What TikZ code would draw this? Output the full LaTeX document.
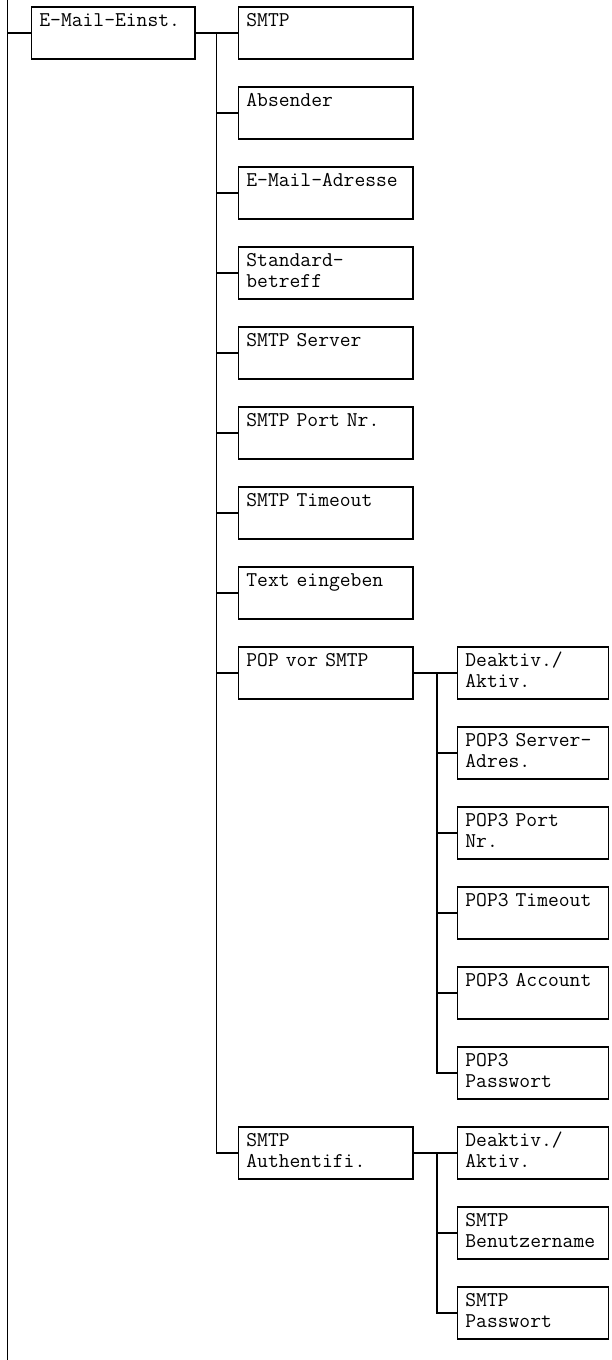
\documentclass[tikz,border=0pt]{standalone}
\usepackage{fontspec}
\usepackage{tikz}
\usetikzlibrary{calc}

\tikzset{
  menu/.style={draw, line width=1.8pt, anchor=north west, align=left,
    inner xsep=8pt, inner ysep=0pt, text height=19.5pt, text depth=32.5pt,
    font={\ttfamily\fontsize{21}{20.7}\selectfont}},
  lvlone/.style={menu, text width=147.3pt},
  lvltwo/.style={menu, text width=158.5pt},
  lvlthree/.style={menu, text width=135pt},
  wire/.style={line width=1.8pt}
}

\begin{document}
\begin{tikzpicture}[x=1pt, y=-1pt]
        \useasboundingbox (0,0) rectangle (611,1360);
        \coordinate (top) at (7.5,0);
        \coordinate (bottom) at (7.5,1360);
        \draw[wire] (top) -- (bottom);
        \node[lvlone] (email) at (30.5,6) {E-Mail-Einst.};
        \draw[wire] (email.west) -- (email.west -| top);
        % second column
        \node[lvltwo] (smtp) at (237.5,6) {SMTP};
        \node[lvltwo] (absender) at (237.5,86) {Absender};
        \node[lvltwo] (adresse) at (237.5,166) {E-Mail-Adresse};
        \node[lvltwo] (betreff) at (237.5,246) {Standard-\\betreff};
        \node[lvltwo] (server) at (237.5,326) {SMTP Server};
        \node[lvltwo] (port) at (237.5,406) {SMTP Port Nr.};
        \node[lvltwo] (timeout) at (237.5,486) {SMTP Timeout};
        \node[lvltwo] (eingeben) at (237.5,566) {Text eingeben};
        \node[lvltwo] (popsmtp) at (237.5,646) {POP vor SMTP};
        \node[lvltwo] (auth) at (237.5,1126) {SMTP\\Authentifi.};
        \draw[wire] (email.east) -- (smtp.west);
        \coordinate (trunk) at ($(email.east)!0.5!(smtp.west)$);
        \foreach \n in {absender,adresse,betreff,server,port,timeout,eingeben,popsmtp,auth}
            \draw[wire] (trunk) |- (\n.west);
        % third column
        \node[lvlthree] (popakt) at (456.5,646) {Deaktiv./\\Aktiv.};
        \node[lvlthree] (popserver) at (456.5,726) {POP3 Server-\\Adres.};
        \node[lvlthree] (popport) at (456.5,806) {POP3 Port\\Nr.};
        \node[lvlthree] (poptimeout) at (456.5,886) {POP3 Timeout};
        \node[lvlthree] (popaccount) at (456.5,966) {POP3 Account};
        \node[lvlthree] (poppass) at (456.5,1046) {POP3\\Passwort};
        \draw[wire] (popsmtp.east) -- (popakt.west);
        \coordinate (poptrunk) at ($(popsmtp.east)!0.55!(popakt.west)$);
        \foreach \n in {popserver,popport,poptimeout,popaccount,poppass}
            \draw[wire] (poptrunk) |- (\n.west);
        \node[lvlthree] (authakt) at (456.5,1126) {Deaktiv./\\Aktiv.};
        \node[lvlthree] (authuser) at (456.5,1206) {SMTP\\Benutzername};
        \node[lvlthree] (authpass) at (456.5,1286) {SMTP\\Passwort};
        \draw[wire] (auth.east) -- (authakt.west);
        \coordinate (authtrunk) at ($(auth.east)!0.55!(authakt.west)$);
        \foreach \n in {authuser,authpass}
            \draw[wire] (authtrunk) |- (\n.west);
    \end{tikzpicture}
\end{document}
